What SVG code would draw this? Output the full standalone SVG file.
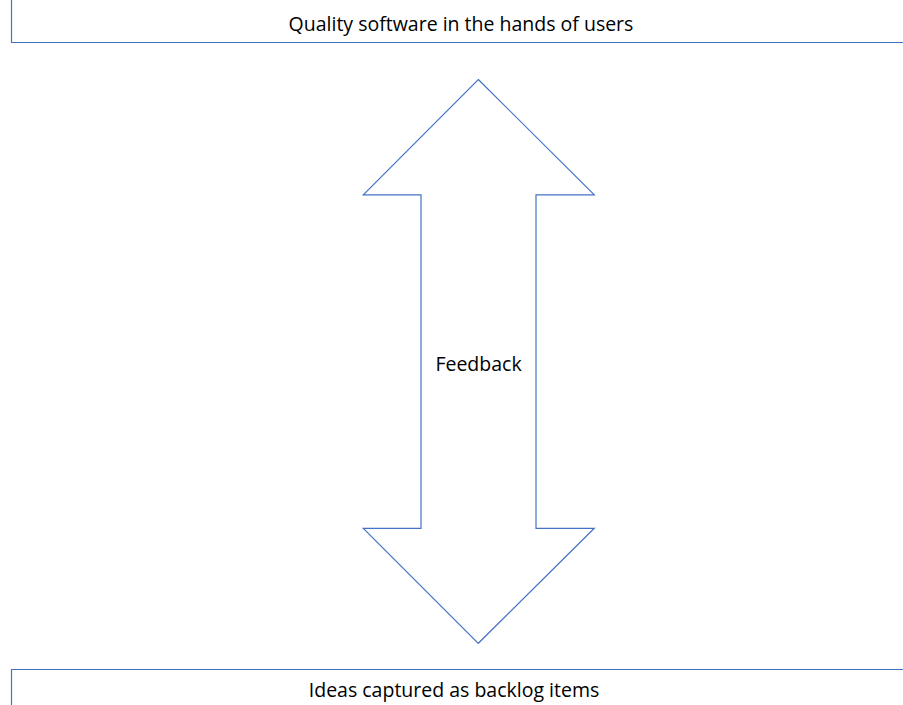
<svg xmlns="http://www.w3.org/2000/svg" width="903" height="705" viewBox="0 0 903 705">
<style>
.ln{fill:none;stroke:#4472C4;stroke-width:1.2}
.t{font-family:"Open Sans",Lato,"Liberation Sans",sans-serif;font-size:19.5px;fill:#000;text-anchor:middle}
</style>
<rect width="903" height="705" fill="#fff"/>
<g id="top">
<path class="ln" d="M11.5 0 V42.5 H903"/>
<text class="t" x="461" y="31">Quality software in the hands of users</text>
</g>
<g id="bottom">
<path class="ln" d="M11.5 705 V669.5 H903"/>
<text class="t" x="454" y="697">Ideas captured as backlog items</text>
</g>
<g id="connectors">
<g id="feedback">
<path class="ln" d="M478.3 79.5 L594.3 194.8 H536 V528.3 H594.3 L478.3 643.3 L363.3 528.3 H421 V194.8 H363.3 Z"/>
<text class="t" x="478.5" y="370.5">Feedback</text>
</g>
</g>
</svg>
